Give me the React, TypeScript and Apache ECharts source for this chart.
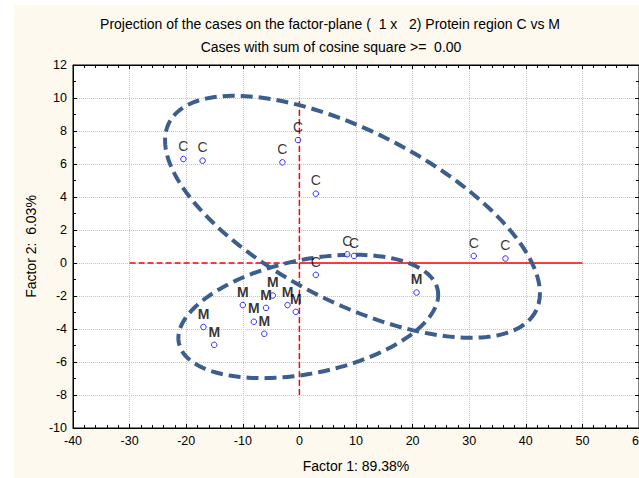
import React, { useEffect, useRef } from 'react';
import * as echarts from 'echarts';

const titleLine1 = 'Projection of the cases on the factor-plane (  1 x   2) Protein region C vs M';
const titleLine2 = 'Cases with sum of cosine square >=  0.00';
const xAxisName = 'Factor 1: 89.38%';
const yAxisName = 'Factor 2:  6.03%';

const xMin = -40, xMax = 60, xStep = 10;
const yMin = -10, yMax = 12, yStep = 2;

// group C cases (Factor 1, Factor 2)
const cX = [-20.5, -17.1, -3.0, -0.25, 2.9, 8.45, 9.65, 2.9, 30.8, 36.4];
const cY = [6.3, 6.2, 6.1, 7.45, 4.2, 0.53, 0.43, -0.72, 0.43, 0.27];
// group M cases
const mX = [-10.0, -5.9, -4.7, -2.1, -0.65, -8.05, -6.2, -16.95, -15.05, 20.7];
const mY = [-2.55, -2.72, -1.97, -2.55, -2.96, -3.56, -4.29, -3.88, -4.96, -1.79];

// ellipses: [centerX, centerY, semi-axis1 dx, dy, semi-axis2 dx, dy] in data units
const ellipseC = [9.38, 2.8, 32.39, -5.71, -6.89, -4.6];
const ellipseM = [1.57, -3.24, 22.86, 1.62, 2.03, -3.37];

// reference lines
const refHDashed = [[-30, 0], [0, 0]];
const refHSolid = [[0, 0], [50, 0]];
const refV = [[0, -8], [0, 10]];

const FONT = '"Liberation Sans", Arial, sans-serif';

export default function App() {
  const ref = useRef<HTMLDivElement>(null);
  useEffect(() => {
    if (!ref.current) return;
    const chart = echarts.init(ref.current, null, { renderer: 'svg' });
    const axisCommon = {
      type: 'value' as const,
      axisLine: { show: true, onZero: false, lineStyle: { color: '#000', width: 1 } },
      axisTick: { show: true, inside: true, length: 4, lineStyle: { color: '#000' } },
    };
    const ellipseRender = (params: any, api: any) => {
      const cx = api.value(0), cy = api.value(1);
      const ux = api.value(2), uy = api.value(3);
      const vx = api.value(4), vy = api.value(5);
      const pts: number[][] = [];
      const n = 200;
      for (let i = 0; i < n; i++) {
        const t = (i / n) * Math.PI * 2;
        pts.push(api.coord([cx + ux * Math.cos(t) + vx * Math.sin(t), cy + uy * Math.cos(t) + vy * Math.sin(t)]));
      }
      return {
        type: 'polygon',
        shape: { points: pts },
        style: { fill: 'none', stroke: '#3b5e8c', lineWidth: 4, lineDash: [12, 6] },
      };
    };
    const pointStyle = {
      type: 'scatter' as const,
      symbol: 'circle',
      symbolSize: 5.5,
      itemStyle: { color: '#fff', borderColor: '#0000ff', borderWidth: 1 },
      z: 5,
    };
    const labelBase = {
      show: true,
      position: 'top' as const,
      distance: 3,
      color: '#000',
      fontSize: 14,
      fontFamily: FONT,
    };
    chart.setOption({
      animation: false,
      grid: { left: 73, top: 65, width: 566, height: 363.3, show: true, backgroundColor: '#fff', borderColor: '#000', borderWidth: 1 },
      graphic: [
        { type: 'text', x: 330, y: 24, style: { text: titleLine1, font: '14px ' + FONT, fill: '#000', textAlign: 'center', textVerticalAlign: 'middle' } },
        { type: 'text', x: 331, y: 47, style: { text: titleLine2, font: '14px ' + FONT, fill: '#000', textAlign: 'center', textVerticalAlign: 'middle' } },
      ],
      xAxis: [
        {
          ...axisCommon,
          min: xMin, max: xMax, interval: xStep, position: 'bottom',
          minorTick: { show: true, splitNumber: 5, length: 3, lineStyle: { color: '#000' } },
          axisLabel: { color: '#000', fontSize: 12.5, fontFamily: FONT, margin: 6 },
          splitLine: { show: true, lineStyle: { color: '#c4c4c4', type: 'dotted' } },
          name: xAxisName, nameLocation: 'middle', nameGap: 31,
          nameTextStyle: { color: '#000', fontSize: 14, fontFamily: FONT },
        },
        {
          ...axisCommon,
          min: xMin, max: xMax, interval: xStep, position: 'top',
          minorTick: { show: true, splitNumber: 5, length: 3, lineStyle: { color: '#000' } },
          axisLabel: { show: false }, splitLine: { show: false },
        },
      ],
      yAxis: [
        {
          ...axisCommon,
          min: yMin, max: yMax, interval: yStep, position: 'left',
          minorTick: { show: true, splitNumber: 2, length: 3, lineStyle: { color: '#000' } },
          axisLabel: { color: '#000', fontSize: 12.5, fontFamily: FONT, margin: 6 },
          splitLine: { show: true, lineStyle: { color: '#c4c4c4', type: 'dotted' } },
          name: yAxisName, nameLocation: 'middle', nameGap: 33,
          nameTextStyle: { color: '#000', fontSize: 14, fontFamily: FONT },
        },
        {
          ...axisCommon,
          min: yMin, max: yMax, interval: yStep, position: 'right',
          minorTick: { show: true, splitNumber: 2, length: 3, lineStyle: { color: '#000' } },
          axisLabel: { show: false }, splitLine: { show: false },
        },
      ],
      series: [
        { type: 'line', data: refHDashed, symbol: 'none', lineStyle: { color: '#ff0000', width: 1.5, type: [6, 3] }, z: 2 },
        { type: 'line', data: refHSolid, symbol: 'none', lineStyle: { color: '#ff0000', width: 1.5, type: 'solid' }, z: 2 },
        { type: 'line', data: refV, symbol: 'none', lineStyle: { color: '#ff0000', width: 1.5, type: [6, 3] }, z: 2 },
        { type: 'custom', name: 'ellipse C', data: [ellipseC], renderItem: ellipseRender, clip: false, z: 3 },
        { type: 'custom', name: 'ellipse M', data: [ellipseM], renderItem: ellipseRender, clip: false, z: 3 },
        { ...pointStyle, name: 'C', data: cX.map((x, i) => [x, cY[i]]), label: { ...labelBase, formatter: 'C' } },
        { ...pointStyle, name: 'M', data: mX.map((x, i) => [x, mY[i]]), label: { ...labelBase, fontWeight: 'bold', formatter: 'M' } },
      ],
    });
    return () => chart.dispose();
  }, []);
  return (
    <div style={{ position: 'fixed', left: 0, top: 0, width: 639, height: 478, overflow: 'hidden', background: '#fff' }}>
      <div style={{ position: 'absolute', left: 14, top: 5, right: 0, bottom: 0, background: '#fdf9ee' }} />
      <div ref={ref} style={{ position: 'absolute', left: 0, top: 0, width: 680, height: 478 }} />
    </div>
  );
}
